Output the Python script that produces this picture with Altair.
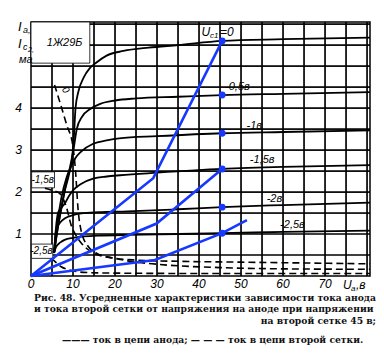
import altair as alt
import pandas as pd

# ---------------- data ----------------
a0_v = [5.5, 6.3, 7.2, 8.1, 9.0, 9.7, 10.2, 10.6, 11.3, 12.5, 14, 15.5, 18, 22, 28, 35, 45.5, 60, 80.7]
a0_i = [0.55, 1.1, 1.6, 2.05, 2.4, 2.75, 3.3, 4.0, 4.4, 4.72, 4.95, 5.08, 5.25, 5.36, 5.44, 5.5, 5.6, 5.64, 5.68]
a05_v = [5.5, 6.3, 7.2, 8.1, 9.3, 10.1, 10.9, 12.2, 14, 16.5, 20, 25, 35, 45.5, 60, 80.7]
a05_i = [0.55, 1.1, 1.6, 2.08, 2.6, 3.0, 3.5, 3.8, 3.97, 4.1, 4.18, 4.23, 4.27, 4.31, 4.34, 4.38]
a1_v = [5.5, 6.2, 7.2, 8.5, 9.6, 10.5, 12, 14.8, 18, 21, 30, 45.5, 60, 80.7]
a1_i = [0.55, 1.2, 1.85, 2.36, 2.62, 2.8, 2.97, 3.15, 3.23, 3.28, 3.33, 3.40, 3.43, 3.47]
a15_v = [5.5, 5.9, 6.4, 7.2, 8, 9, 10.1, 12, 14.8, 18, 21.2, 30, 45.5, 60, 80.7]
a15_i = [0.55, 1.1, 1.49, 1.62, 1.72, 1.9, 2.05, 2.2, 2.32, 2.37, 2.40, 2.46, 2.55, 2.6, 2.64]
a2_v = [5.5, 6, 7, 8, 10, 12, 16, 23, 35, 45.5, 60, 80.7]
a2_i = [0.55, 1.1, 1.28, 1.37, 1.45, 1.49, 1.52, 1.54, 1.59, 1.64, 1.69, 1.75]
a25_v = [5.5, 6, 7, 8, 10, 12, 16, 23, 35, 45.5, 60, 80.7]
a25_i = [0.55, 0.7, 0.8, 0.86, 0.91, 0.94, 0.96, 0.98, 1.0, 1.02, 1.05, 1.08]

g0_v = [5.6, 7, 8.5, 10, 10.6, 11.2, 12, 13.5, 15.5, 19, 25, 35, 50, 65, 80.7]
g0_i = [4.55, 4.1, 3.6, 3.08, 2.5, 1.6, 1.05, 0.72, 0.55, 0.44, 0.38, 0.35, 0.33, 0.31, 0.29]
g15_v = [3.3, 5, 6.8, 8.4, 9.6, 10.8, 12, 14, 16.7, 20, 23, 30, 45, 60, 80.7]
g15_i = [2.09, 2.04, 1.97, 1.65, 1.2, 0.95, 0.78, 0.6, 0.48, 0.42, 0.36, 0.28, 0.2, 0.17, 0.16]
g25_v = [4.8, 6, 7.2, 9, 11.2, 14, 19, 25, 40, 60, 80.7]
g25_i = [0.42, 0.32, 0.22, 0.15, 0.1, 0.08, 0.07, 0.065, 0.06, 0.06, 0.06]

b1_v = [0, 29.1, 45.5]
b1_i = [0, 2.33, 5.6]
b2_v = [0, 29.9, 45.5]
b2_i = [0, 1.25, 2.55]
b3_v = [0, 29.5, 45.5, 51.4]
b3_i = [0, 0.38, 1.02, 1.33]
pt_v = [45.5, 45.5, 45.5, 45.5, 45.5, 45.5]
pt_i = [5.6, 4.31, 3.40, 2.55, 1.64, 1.02]

lab_text = ["-0,5в", "-1в", "-1,5в", "-2в", "-2,5в"]
lab_v = [46.2, 51.3, 52.1, 56.1, 59.3]
lab_i = [4.49, 3.57, 2.76, 1.83, 1.21]

x_ticks = [0, 10, 20, 30, 40, 50, 60, 70]
y_ticks = [1, 2, 3, 4]
grid_v = [5, 10, 15, 20, 25, 30, 35, 40, 45, 50, 55, 60, 65, 70, 75, 80]
grid_i = [0.5, 1, 1.5, 2, 2.5, 3, 3.5, 4, 4.5, 5, 5.5, 6]

caption = [
    "Рис. 48. Усредненные характеристики зависимости тока анода",
    "и тока второй сетки от напряжения на аноде при напряжении",
    "на второй сетке 45 в;",
    "——— ток в цепи анода;  — — — ток в цепи второй сетки.",
]

# ---------------- helpers ----------------
W, H = 339, 254
FONT = "Liberation Sans"
SERIF = "DejaVu Serif"
BLUE = "#1638ff"

xs = alt.Scale(domain=[0, 80.7], nice=False, zero=False)
ys = alt.Scale(domain=[0, 6.05], nice=False, zero=False)
X = alt.X("V:Q", scale=xs, axis=None)
Y = alt.Y("I:Q", scale=ys, axis=None)


def long(pairs):
    rows = []
    for name, vv, ii in pairs:
        for k, (v, i) in enumerate(zip(vv, ii)):
            rows.append({"c": name, "k": k, "V": float(v), "I": float(i)})
    return pd.DataFrame(rows)


# grid, drawn two ways (rules and 2-point lines)
gv = alt.Chart(pd.DataFrame({"V": [float(v) for v in grid_v]})).mark_rule(
    color="black", strokeWidth=1.2).encode(x=X)
gh = alt.Chart(pd.DataFrame({"I": [float(i) for i in grid_i]})).mark_rule(
    color="black", strokeWidth=1.2).encode(y=Y)
grid_pairs = []
for v in grid_v:
    grid_pairs.append(("v%s" % v, [v, v], [0.0, 6.05]))
for i in grid_i:
    grid_pairs.append(("h%s" % i, [0.0, 80.7], [i, i]))
grid_lines = alt.Chart(long(grid_pairs)).mark_line(
    color="black", strokeWidth=1.2).encode(x=X, y=Y, detail="c:N", order="k:Q")

# label boxes hiding the grid
boxes = pd.DataFrame({
    "V": [0.0, 0.15, 0.1], "V2": [14.0, 5.6, 5.2],
    "I": [5.07, 2.1, 0.42], "I2": [6.05, 2.48, 0.76],
})
box_layer = alt.Chart(boxes).mark_rect(fill="white", stroke="black", strokeWidth=0.8).encode(
    x=X, x2="V2:Q", y=Y, y2="I2:Q")

# tick labels (text marks placed through the scales)
xt = alt.Chart(pd.DataFrame({"V": x_ticks, "t": [str(v) for v in x_ticks]})).mark_text(
    font=FONT, fontStyle="italic", fontSize=12, align="center", baseline="middle",
    color="black").encode(x=X, y=alt.value(H + 8), text="t:N")
yt = alt.Chart(pd.DataFrame({"I": y_ticks, "t": [str(v) for v in y_ticks]})).mark_text(
    font=FONT, fontStyle="italic", fontSize=12, align="right", baseline="middle",
    color="black").encode(y=Y, x=alt.value(-9), text="t:N")

anode = long([("0", a0_v, a0_i), ("-0.5", a05_v, a05_i), ("-1", a1_v, a1_i),
              ("-1.5", a15_v, a15_i), ("-2", a2_v, a2_i), ("-2.5", a25_v, a25_i)])
anode_layer = alt.Chart(anode).mark_line(color="black", strokeWidth=1.8,
                                         interpolate="monotone").encode(
    x=X, y=Y, detail="c:N", order="k:Q")

grid2 = long([("0", g0_v, g0_i), ("-1.5", g15_v, g15_i), ("-2.5", g25_v, g25_i)])
grid2_layer = alt.Chart(grid2).mark_line(color="black", strokeWidth=1.6,
                                         strokeDash=[7, 4], interpolate="monotone").encode(
    x=X, y=Y, detail="c:N", order="k:Q")

blue = long([("b1", b1_v, b1_i), ("b2", b2_v, b2_i), ("b3", b3_v, b3_i)])
blue_layer = alt.Chart(blue).mark_line(color=BLUE, strokeWidth=2.6).encode(
    x=X, y=Y, detail="c:N", order="k:Q")
pts_layer = alt.Chart(pd.DataFrame({"V": pt_v, "I": pt_i})).mark_circle(
    color=BLUE, opacity=1, size=48).encode(x=X, y=Y)

labs = pd.DataFrame({"V": lab_v, "I": lab_i, "t": lab_text})
lab_layer = alt.Chart(labs).mark_text(font=FONT, fontStyle="italic", fontSize=11,
                                      align="left", baseline="middle", color="black").encode(
    x=X, y=Y, text="t:N")

inner = [
    (8.0, 5.55, "1Ж29Б", 11, "center"),
    (2.8, 2.29, "-1,5в", 10, "center"),
    (2.5, 0.59, "-2,5в", 10, "center"),
    (40.6, 5.81, "U", 12, "left"),
    (42.6, 5.71, "с1", 8, "left"),
    (45.0, 5.81, "=0", 12, "left"),
]
inner_layers = []
for v, i, t, s, a in inner:
    inner_layers.append(
        alt.Chart(pd.DataFrame({"V": [v], "I": [i], "t": [t]})).mark_text(
            font=FONT, fontStyle="italic", fontSize=s, align=a,
            baseline="middle", color="black").encode(x=X, y=Y, text="t:N"))

zero_lab = alt.Chart(pd.DataFrame({"V": [8.2], "I": [4.43], "t": ["0"]})).mark_text(
    font=FONT, fontStyle="italic", fontSize=10, angle=55, color="black").encode(
    x=X, y=Y, text="t:N")

outer = [
    (-13, 9, "I", 13), (-8, 11, "а,", 9),
    (-13, 26, "I", 13), (-8, 28, "с", 9), (-3, 30, "2,", 7),
    (-12, 41, "ма", 11),
    (312, 267, "U", 12), (320, 269, "а", 8), (325, 267, ",в", 12),
]
outer_layers = []
for px, py, t, s in outer:
    outer_layers.append(
        alt.Chart(pd.DataFrame({"t": [t]})).mark_text(
            font=FONT, fontStyle="italic", fontSize=s, align="left",
            baseline="alphabetic", color="black").encode(
            x=alt.value(px), y=alt.value(py), text="t:N"))

cap = [
    (3, 276, caption[0], "left"),
    (3, 287, caption[1], "left"),
    (345, 299, caption[2], "right"),
    (31, 318, caption[3], "left"),
]
cap_layers = []
for px, py, t, a in cap:
    cap_layers.append(
        alt.Chart(pd.DataFrame({"t": [t]})).mark_text(
            font=SERIF, fontWeight="bold", fontSize=9.2, align=a,
            baseline="middle", color="#111").encode(
            x=alt.value(px), y=alt.value(py), text="t:N"))

chart = alt.layer(
    gv, gh, grid_lines, box_layer, xt, yt, anode_layer, grid2_layer, blue_layer, pts_layer,
    lab_layer, zero_lab, *inner_layers, *outer_layers, *cap_layers,
).properties(
    width=W, height=H,
    autosize=alt.AutoSizeParams(type="none"),
    padding={"left": 31, "top": 22, "right": 14, "bottom": 80},
).configure(background="white").configure_view(stroke="black", strokeWidth=1.5)

chart.save("out.html", embed_options={"renderer": "svg", "actions": False})
